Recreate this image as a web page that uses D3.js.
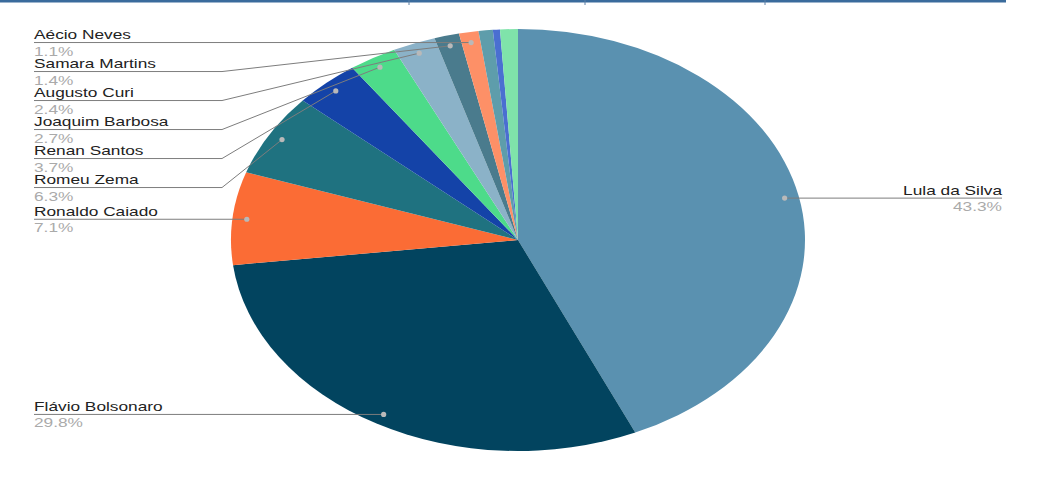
<!DOCTYPE html>
<html>
<head>
<meta charset="utf-8">
<script src="https://cdn.jsdelivr.net/npm/d3@7"></script>
<style>
  body { margin: 0; background: #fff; }
  svg { display: block; }
</style>
</head>
<body>
<div id="chart"></div>
<script>
var w = 1060;
var h = 482;

// candidates, clockwise from 12 o'clock
var names = ["Lula da Silva", "Flávio Bolsonaro", "Ronaldo Caiado", "Romeu Zema",
             "Renan Santos", "Joaquim Barbosa", "Augusto Curi", "Samara Martins",
             "Aécio Neves", null, null, null];
var values = [43.3, 29.8, 7.1, 6.3, 3.7, 2.7, 2.4, 1.4, 1.1, 0.8, 0.4, 1.0];
var colors = ["#5a91b0", "#02445f", "#fb6c35", "#1f7280", "#1443a8", "#4ddb8a",
              "#8bb2c8", "#4a7b8d", "#fd9067", "#5e9dab", "#4a6fd1", "#7fe3aa"];
var topTicks = [409, 585, 765];

var cx = 518, cy = 240;
var ry = 211;
var sx = 287 / 211; // picture is stretched sideways
var formatPct = function(v) { return v.toFixed(1) + "%"; };

var svg = d3.select("#chart")
    .append("svg")
    .attr("width", w)
    .attr("height", h);

// strip of the table above the chart
svg.append("line")
    .attr("x1", 0).attr("x2", 1006)
    .attr("y1", 1.2).attr("y2", 1.2)
    .attr("stroke", "#3a6b9c")
    .attr("stroke-width", 2.4);
svg.selectAll(".tick")
    .data(topTicks)
    .enter()
    .append("line")
    .attr("x1", function(d) { return d; })
    .attr("x2", function(d) { return d; })
    .attr("y1", 0).attr("y2", 5)
    .attr("stroke", "#5a7fa5")
    .attr("stroke-width", 1);

var pie = d3.pie().sort(null).value(function(d) { return d; });
var arcs = pie(values);

var arc = d3.arc().innerRadius(0).outerRadius(ry);
var dotArc = d3.arc().innerRadius(ry * 0.95).outerRadius(ry * 0.95);

var g = svg.append("g")
    .attr("transform", "translate(" + cx + "," + cy + ") scale(" + sx + ",1)");

g.selectAll("path")
    .data(arcs)
    .enter()
    .append("path")
    .attr("d", arc)
    .attr("fill", function(d, i) { return colors[i]; });

// label layout
var labels = [];
arcs.forEach(function(d, i) {
    if (!names[i]) return;
    var c = dotArc.centroid(d);
    var mid = (d.startAngle + d.endAngle) / 2;
    labels.push({
        name: names[i],
        value: values[i],
        x: cx + c[0] * sx,
        y: cy + c[1],
        left: mid > Math.PI
    });
});

var left = labels.filter(function(d) { return d.left; })
    .sort(function(a, b) { return a.y - b.y; });
var prev = -Infinity;
left.forEach(function(d) {
    d.ly = Math.max(d.y, prev + 29);
    prev = d.ly;
});
labels.filter(function(d) { return !d.left; })
    .forEach(function(d) { d.ly = d.y; });

var leftX = 34, elbowX = 222, rightX = 1002;

var lab = svg.append("g");

lab.selectAll("polyline")
    .data(labels)
    .enter()
    .append("polyline")
    .attr("points", function(d) {
        if (d.left) {
            return [[d.x, d.y], [elbowX, d.ly], [leftX, d.ly]].join(" ");
        }
        return [[d.x, d.y], [rightX, d.ly]].join(" ");
    })
    .attr("fill", "none")
    .attr("stroke", "#7d7d7d")
    .attr("stroke-width", 1);

lab.selectAll("circle")
    .data(labels)
    .enter()
    .append("circle")
    .attr("cx", function(d) { return d.x; })
    .attr("cy", function(d) { return d.y; })
    .attr("r", 2.6)
    .attr("fill", "#b9b9b9");

var tx = 1.33;
lab.selectAll(".name")
    .data(labels)
    .enter()
    .append("text")
    .attr("class", "name")
    .attr("transform", function(d) {
        return "translate(" + (d.left ? leftX : rightX) + "," + (d.ly - 3.5) + ") scale(" + tx + ",1)";
    })
    .attr("text-anchor", function(d) { return d.left ? "start" : "end"; })
    .attr("font-family", "Liberation Sans, Arial, sans-serif")
    .attr("font-size", 13)
    .attr("fill", "#222")
    .text(function(d) { return d.name; });

lab.selectAll(".pct")
    .data(labels)
    .enter()
    .append("text")
    .attr("class", "pct")
    .attr("transform", function(d) {
        return "translate(" + (d.left ? leftX : rightX) + "," + (d.ly + 13) + ") scale(" + tx + ",1)";
    })
    .attr("text-anchor", function(d) { return d.left ? "start" : "end"; })
    .attr("font-family", "Liberation Sans, Arial, sans-serif")
    .attr("font-size", 13)
    .attr("fill", "#aaaaaa")
    .text(function(d) { return formatPct(d.value); });
</script>
</body>
</html>
